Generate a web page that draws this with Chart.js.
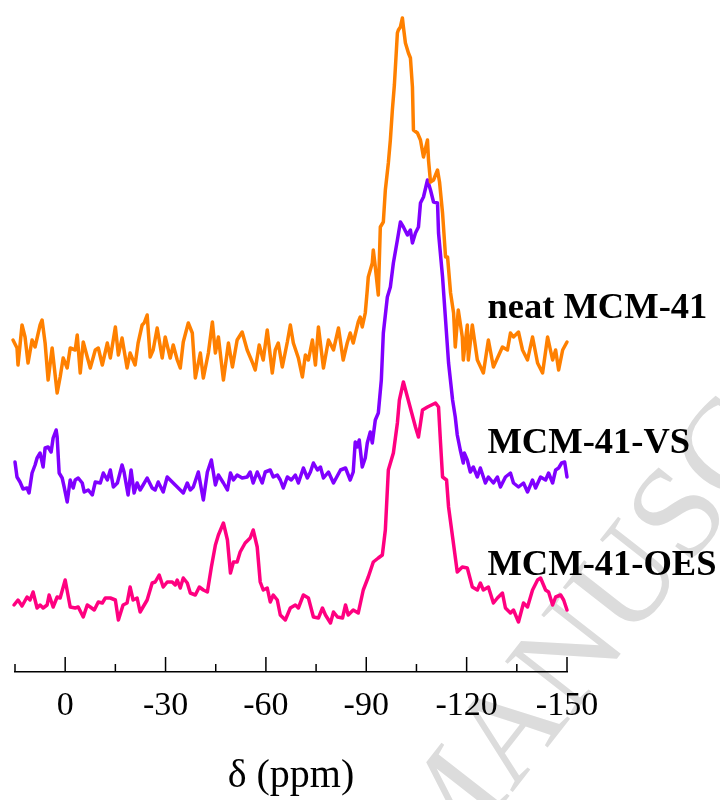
<!DOCTYPE html>
<html>
<head>
<meta charset="utf-8">
<script src="https://cdn.jsdelivr.net/npm/chart.js@4.4.1/dist/chart.umd.min.js"></script>
<style>
  html, body { margin: 0; padding: 0; background: #fff; }
  #wrap { width: 720px; height: 800px; }
</style>
</head>
<body>
<div id="wrap"><canvas id="chart" width="720" height="800"></canvas></div>
<script>
// chemical shift (ppm) / intensity (a.u., relative to each trace baseline)
const orangePpm = [15.6,14.4,14.1,12.9,12.0,11.1,9.9,9.0,7.5,6.9,6.0,5.1,3.9,2.4,1.5,0.6,-0.6,-1.5,-3.0,-3.6,-4.5,-5.4,-6.6,-7.5,-9.0,-9.9,-11.1,-12.6,-13.5,-15.0,-15.9,-17.0,-18.5,-19.4,-20.9,-21.8,-23.0,-23.6,-24.5,-25.4,-26.3,-27.5,-29.0,-29.9,-31.4,-32.3,-33.5,-34.4,-35.3,-36.8,-38.0,-38.9,-40.4,-41.3,-42.8,-44.0,-44.9,-45.8,-47.3,-48.8,-50.0,-51.4,-52.9,-54.4,-55.9,-56.8,-58.0,-59.2,-60.4,-61.9,-62.8,-63.7,-64.9,-66.4,-67.3,-68.2,-69.7,-70.9,-71.8,-72.7,-73.9,-74.8,-75.7,-77.2,-78.7,-80.2,-81.7,-83.1,-84.3,-85.2,-86.1,-87.6,-88.2,-88.8,-89.7,-90.3,-90.6,-91.8,-92.1,-92.7,-93.6,-94.2,-95.1,-95.7,-96.6,-97.2,-97.8,-98.4,-99.3,-99.6,-100.2,-100.8,-101.1,-101.7,-102.6,-103.2,-103.8,-104.1,-105.3,-106.2,-107.1,-108.3,-108.6,-109.2,-110.1,-111.3,-111.9,-112.8,-113.7,-114.3,-115.2,-116.1,-116.6,-117.5,-118.7,-119.0,-120.2,-120.5,-121.7,-123.2,-125.0,-126.5,-128.0,-130.7,-132.2,-133.1,-134.0,-135.5,-136.7,-138.2,-139.7,-141.2,-142.7,-144.2,-145.7,-146.6,-147.5,-148.7,-150.0];
const orangeInt = [10,2,-15,25,13,-13,10,3,25,30,7,-30,2,-43,-27,-8,-18,2,0,15,-23,8,-7,-18,0,2,-15,7,-8,23,-5,12,-18,-3,-15,7,25,27,35,-7,0,22,-8,13,-8,5,-10,-18,8,27,17,-28,-3,-28,-3,28,-3,13,-30,7,-17,10,18,0,-12,-20,5,-10,20,-23,0,7,-17,8,25,7,-8,-27,-5,-10,10,-15,23,-18,10,0,22,-10,7,17,7,28,33,23,37,60,73,87,100,83,55,123,128,160,187,210,240,265,317,320,323,332,323,307,297,292,263,220,217,210,193,210,190,168,170,180,168,137,93,93,57,37,3,40,13,-10,25,-10,25,-10,-23,10,-17,3,0,17,13,18,0,-10,13,-13,-23,13,-10,0,-20,0,8];

const purplePpm = [15.0,14.4,13.5,12.6,11.4,10.8,9.9,9.0,8.4,7.5,6.6,6.0,5.1,4.2,3.6,2.7,2.4,1.8,0.9,0.3,-0.6,-1.5,-2.4,-3.0,-3.9,-5.1,-5.7,-6.9,-8.1,-9.0,-10.5,-11.4,-12.6,-13.5,-14.4,-15.6,-17.0,-17.6,-18.8,-19.7,-20.6,-21.5,-22.4,-23.3,-24.5,-26.0,-26.9,-27.8,-29.3,-30.5,-32.0,-32.9,-34.4,-35.3,-36.5,-37.4,-38.3,-39.8,-41.3,-42.5,-43.7,-44.9,-45.8,-47.3,-48.5,-49.4,-50.3,-51.4,-52.9,-54.4,-55.3,-56.2,-57.4,-58.9,-59.8,-61.3,-62.2,-63.4,-64.3,-65.2,-66.4,-67.6,-68.8,-69.7,-71.2,-72.4,-73.3,-74.2,-75.4,-76.3,-77.2,-78.7,-80.2,-82.3,-83.8,-85.2,-86.1,-86.7,-87.3,-87.9,-88.8,-89.7,-90.3,-91.2,-91.8,-92.7,-93.6,-94.5,-95.1,-96.3,-97.2,-98.1,-99.3,-100.2,-101.1,-102.3,-103.2,-103.8,-104.7,-105.6,-106.2,-107.1,-108.3,-109.2,-110.1,-111.3,-111.6,-112.8,-113.7,-114.6,-115.8,-116.6,-117.2,-118.1,-119.0,-119.3,-120.2,-121.1,-122.0,-123.2,-124.1,-125.6,-126.5,-128.0,-129.2,-130.1,-131.6,-133.1,-134.0,-135.5,-137.0,-138.2,-139.7,-140.6,-142.1,-143.6,-144.5,-145.7,-146.6,-147.5,-148.4,-149.3,-150.0];
const purpleInt = [18,3,-2,-9,-8,-13,7,15,22,27,13,32,33,28,42,50,43,7,2,-7,-22,0,-8,0,2,-3,-12,-10,-15,-2,-3,7,0,10,-7,-3,15,8,-15,10,-13,-3,-10,-5,2,-8,-10,-2,-12,3,-2,-5,-10,-13,-3,-10,-7,8,-20,8,20,-5,5,-3,-10,7,0,5,2,3,8,-3,8,-3,8,10,3,5,0,-8,3,0,5,-3,12,2,8,17,10,13,2,8,-3,10,12,0,8,38,33,40,13,22,37,48,37,60,67,100,147,183,193,217,240,258,253,245,250,237,247,253,277,283,300,290,278,277,247,203,160,117,80,63,45,30,17,27,20,8,13,3,12,-3,3,-3,3,-7,3,7,-3,-7,-3,-12,0,-8,3,0,7,-3,10,12,17,18,3];

const pinkPpm = [15.3,14.1,12.9,11.4,10.5,9.6,8.4,7.5,6.6,5.4,4.8,3.6,2.4,1.5,0.0,-1.5,-3.0,-3.9,-5.4,-6.6,-7.5,-8.7,-9.9,-11.1,-12.0,-13.5,-15.0,-15.9,-17.3,-18.5,-19.4,-20.3,-21.5,-22.4,-24.5,-26.0,-26.9,-28.1,-29.3,-30.5,-32.0,-32.9,-33.5,-34.4,-35.3,-36.5,-37.4,-38.9,-40.1,-41.3,-42.5,-43.7,-44.9,-45.8,-47.3,-48.5,-49.4,-50.3,-51.4,-52.3,-53.8,-55.3,-56.2,-57.4,-58.3,-59.2,-60.4,-61.3,-62.2,-63.4,-64.3,-65.8,-67.3,-68.8,-69.7,-71.2,-72.7,-74.2,-75.7,-76.9,-77.8,-79.3,-80.2,-81.4,-82.9,-83.8,-84.6,-86.1,-87.6,-89.1,-90.6,-92.1,-93.6,-94.8,-95.7,-96.6,-98.1,-99.3,-99.9,-101.1,-102.3,-103.5,-104.7,-105.6,-106.8,-108.3,-110.7,-111.6,-112.2,-112.8,-114.0,-114.6,-115.8,-117.2,-118.7,-120.2,-121.7,-123.2,-124.1,-125.0,-126.5,-128.0,-129.2,-130.7,-131.6,-133.1,-134.0,-135.5,-137.0,-138.2,-139.7,-141.2,-142.1,-143.6,-144.5,-145.7,-146.6,-148.1,-149.0,-150.0];
const pinkInt = [0,5,-1,8,5,13,-3,0,-3,0,10,-2,8,7,25,-2,-3,-2,-12,0,-2,-5,3,2,7,7,5,-15,0,2,18,5,7,-7,5,22,23,30,18,23,23,20,25,17,27,22,12,10,18,15,13,38,60,70,82,65,32,43,43,53,62,67,75,58,23,15,17,3,10,5,-10,-15,-3,0,-3,10,7,-12,-13,-3,-10,-18,-7,-12,-13,0,-10,-5,-8,15,28,43,47,50,75,135,152,182,205,223,208,193,178,168,195,198,202,198,162,128,125,98,68,33,38,37,18,15,22,15,18,2,7,12,-3,-8,-5,-17,2,-2,15,25,27,15,13,0,8,10,5,-5];

const seriesNames = ["neat MCM-41", "MCM-41-VS", "MCM-41-OES"];
const seriesColors = ["#ff8000", "#8000ff", "#ff0080"];
const traceOffsets = [322, 192, 67];
const labelPpm = -126.2;
const labelY = [354, 219, 97];
const xTicks = [15, 0, -15, -30, -45, -60, -75, -90, -105, -120, -135, -150];

const traces = [
  [orangePpm, orangeInt],
  [purplePpm, purpleInt],
  [pinkPpm, pinkInt],
];

const datasets = traces.map(([ppm, val], i) => ({
  label: seriesNames[i],
  data: ppm.map((p, k) => ({ x: p, y: val[k] + traceOffsets[i] })),
  borderColor: seriesColors[i],
  borderWidth: 3.5,
  pointRadius: 0,
  tension: 0,
  borderJoinStyle: "round",
  borderCapStyle: "round",
  clip: false,
}));

// faint watermark from the source pdf
const watermark = {
  id: "watermark",
  beforeDraw(chart) {
    const ctx = chart.ctx;
    ctx.save();
    ctx.font = '132px "Liberation Serif"';
    const pre = ctx.measureText("ACCEPTED MAN").width;
    const wU = ctx.measureText("U").width;
    ctx.translate(624, 578);
    ctx.rotate(-52 * Math.PI / 180);
    ctx.fillStyle = "#dcdcdc";
    ctx.textBaseline = "alphabetic";
    ctx.fillText("ACCEPTED MANUSCRIPT", -(pre + wU / 2), 44);
    ctx.restore();
  },
};

const axisTicks = {
  id: "axisTicks",
  afterDraw(chart) {
    const ctx = chart.ctx;
    const xs = chart.scales.x;
    const y0 = chart.chartArea.bottom;
    ctx.save();
    ctx.strokeStyle = "#000";
    ctx.lineWidth = 1.5;
    xTicks.forEach((v) => {
      const px = xs.getPixelForValue(v);
      const len = v % 30 === 0 ? 15 : 8;
      ctx.beginPath();
      ctx.moveTo(px, y0);
      ctx.lineTo(px, y0 - len);
      ctx.stroke();
    });
    // trace names
    const ys = chart.scales.y;
    ctx.fillStyle = "#000";
    ctx.font = 'bold 36.5px "Liberation Serif"';
    ctx.textAlign = "left";
    ctx.textBaseline = "alphabetic";
    seriesNames.forEach((name, i) => {
      ctx.fillText(name, xs.getPixelForValue(labelPpm), ys.getPixelForValue(labelY[i]));
    });
    ctx.restore();
  },
};

new Chart(document.getElementById("chart"), {
  type: "line",
  data: { datasets },
  plugins: [watermark, axisTicks],
  options: {
    responsive: false,
    animation: false,
    layout: { padding: { left: 15, right: 153, top: 0, bottom: 0 } },
    plugins: { legend: { display: false }, tooltip: { enabled: false } },
    scales: {
      x: {
        type: "linear",
        reverse: true,
        min: -150,
        max: 15,
        afterFit: (s) => { s.height = 128; },
        grid: { display: false, drawTicks: false },
        border: { display: true, color: "#000", width: 1.5 },
        ticks: {
          stepSize: 15,
          padding: 14,
          color: "#000",
          font: { family: "Liberation Serif", size: 34 },
          maxRotation: 0,
          autoSkip: false,
          callback: (v) => (v % 30 === 0 ? String(v) : ""),
        },
        title: {
          display: true,
          text: "δ (ppm)",
          color: "#000",
          font: { family: "Liberation Serif", size: 40 },
          padding: { top: 0, bottom: 0 },
        },
      },
      y: {
        display: false,
        min: 0,
        max: 672,
      },
    },
  },
});
</script>
</body>
</html>
